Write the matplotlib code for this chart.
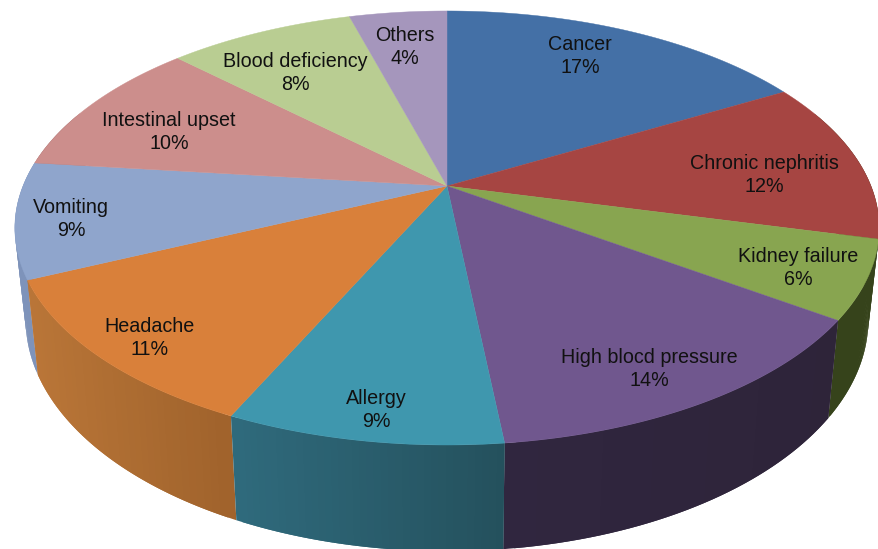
import numpy as np
import matplotlib
matplotlib.use('Agg')
import matplotlib.pyplot as plt

plt.rcParams['font.family'] = ['Liberation Sans', 'DejaVu Sans']

# datos del grafico
categories = ['Cancer', 'Chronic nephritis', 'Kidney failure', 'High blocd pressure', 'Allergy',
              'Headache', 'Vomiting', 'Intestinal upset', 'Blood deficiency', 'Others']
percent_labels = [17, 12, 6, 14, 9, 11, 9, 10, 8, 4]
# slice sizes as drawn in the picture (labels are rounded)
drawn_shares = [16.8, 12.1, 5.8, 13.55, 8.65, 11.3, 8.6, 10.4, 8.4, 4.4]

top_colors = ['#4470A6', '#A64542', '#88A550', '#70578E', '#3F97AE',
              '#D9803A', '#8FA5CC', '#CC8E8C', '#B9CD92', '#A596BC']
# wall colour at the clockwise start and end of each slice
wall_first = ['#2F4F75', '#36431B', '#36431B', '#2E2439', '#24505C',
              '#A0632C', '#7E93BA', '#8F6362', '#82906A', '#746A84']
wall_last = ['#2F4F75', '#36431B', '#36431B', '#30263F', '#2F6A7C',
             '#BA7638', '#7E93BA', '#8F6362', '#82906A', '#746A84']

# label centres in pixels
label_xy = [(580, 56), (764, 175), (798, 268), (649, 369), (376, 410),
            (150, 338), (71, 219), (169, 132), (295, 73), (405, 47)]

# perspective of the disc
cx, apex_y = 447, 186
ex, ey, persp = 424, 172.9, -0.1935
wall_sx, wall_sy, wall_dy = 0.975, 1.068, 76


def project(ang):
    # ang clockwise from 12 o'clock, radians
    u, v = np.sin(ang), -np.cos(ang)
    w = 1 + persp * v
    return cx + ex * u / w, (ey * v + apex_y) / w


def project_bottom(ang):
    x, y = project(ang)
    return cx + (x - cx) * wall_sx, y * wall_sy + wall_dy


fig = plt.figure(figsize=(8.79, 5.49), dpi=100)
ax = fig.add_axes([0, 0, 1, 1])
ax.set_xlim(0, 879)
ax.set_ylim(549, 0)
ax.axis('off')

edges = np.cumsum([0] + drawn_shares) / sum(drawn_shares) * 2 * np.pi

# walls first, back to front; each strip runs back under the one before it
strips = []
for i in range(len(drawn_shares)):
    angs = np.linspace(edges[i], edges[i + 1], 40)
    c0 = np.array(matplotlib.colors.to_rgb(wall_first[i]))
    c1 = np.array(matplotlib.colors.to_rgb(wall_last[i]))
    step = angs[1] - angs[0]
    x_first, x_last = project(edges[i])[0], project(edges[i + 1])[0]
    has_front = edges[i] < np.pi < edges[i + 1]
    for j in range(len(angs) - 1):
        a0, a1 = angs[j], angs[j + 1]
        mid = (a0 + a1) / 2
        if np.cos(mid) > 0.35:
            continue
        # shade follows the position across the slice, not the angle
        t = np.clip((project(mid)[0] - x_first) / (x_last - x_first), 0, 1)
        col = c0 + (c1 - c0) * t
        if has_front or np.sin(mid) > 0:
            a0 = max(a0 - step, edges[i])
        else:
            a1 = min(a1 + step, edges[i + 1])
        # the slice across the front goes in plain clockwise order, no seam at 6 o'clock
        key = 2 + j * 1e-3 if has_front else -np.cos(mid)
        strips.append((key, a0, a1, col))
strips.sort(key=lambda s: s[0])
for _, a0, a1, col in strips:
    x0, y0 = project(a0)
    x1, y1 = project(a1)
    x2, y2 = project_bottom(a1)
    x3, y3 = project_bottom(a0)
    ax.fill([x0, x1, x2, x3], [y0, y1, y2, y3], color=col, lw=0, zorder=2)

# top face
for i in range(len(drawn_shares)):
    angs = np.linspace(edges[i], edges[i + 1], 80)
    xs, ys = project(angs)
    ax.fill(np.r_[cx, xs], np.r_[apex_y, ys], color=top_colors[i], lw=0.3, zorder=3)

for name, pct, (x, y) in zip(categories, percent_labels, label_xy):
    ax.text(x, y, f'{name}\n{pct}%', ha='center', va='center', fontsize=14.2,
            linespacing=1.27, color='#111111', zorder=4)

fig.savefig('out.png', dpi=100, facecolor='white')
